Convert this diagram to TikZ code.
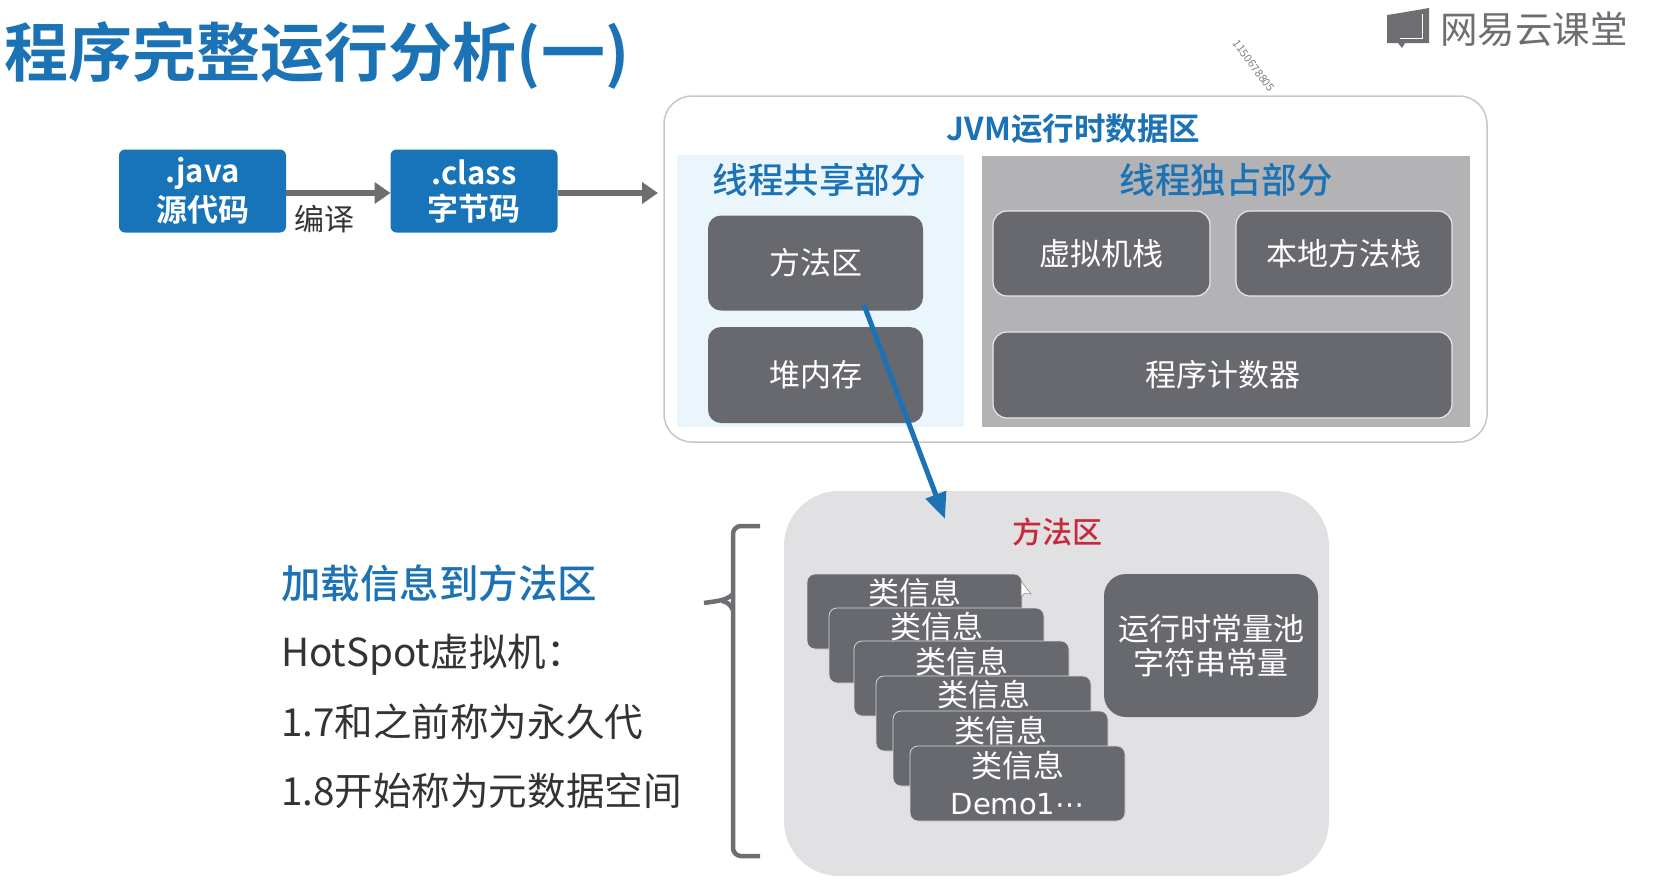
\documentclass[tikz,border=0pt]{standalone}
\usepackage{fontspec}
\usetikzlibrary{arrows.meta}
\setmainfont{Noto Sans CJK SC}[BoldFont={Noto Sans CJK SC Bold}]
\newfontfamily\medfont{Noto Sans CJK SC Medium}
\newfontfamily\dvfont{DejaVu Sans}
\definecolor{tblue}{HTML}{1B72B4}
\definecolor{boxblue}{HTML}{1874B8}
\definecolor{dgray}{HTML}{68696E}
\definecolor{agray}{HTML}{6E6E72}
\definecolor{pblue}{HTML}{EAF5FC}
\definecolor{pgray}{HTML}{B3B3B5}
\definecolor{bgray}{HTML}{E1E1E3}
\definecolor{redt}{HTML}{C8283C}
\newcommand{\fs}[1]{\fontsize{#1}{#1}\selectfont}
\tikzset{
  x=1pt,y=-1pt,
  every node/.style={inner sep=0pt,outer sep=0pt,align=center},
  bluebox/.style={fill=boxblue,rounded corners=6pt,text=white,font=\fs{31}\bfseries,minimum width=167pt,minimum height=83pt},
  darkbox/.style={fill=dgray,rounded corners=13pt,text=white,font=\fs{31},minimum width=215pt},
  framed/.style={darkbox,draw=white!85!dgray,line width=1.2pt,rounded corners=14pt},
  card/.style={fill=dgray,draw=white!75!dgray,line width=.8pt,rounded corners=8pt,minimum width=215pt,minimum height=75pt},
  cardtext/.style={text=white,font=\fs{31}},
  graylink/.style={draw=agray,line width=5.5pt,-{Triangle[length=16pt,width=21pt]}},
  bluelink/.style={draw=tblue,line width=5pt,-{Triangle[length=26pt,width=21pt]}},
  panelhead/.style={text=tblue,font=\medfont\fs{35.5}},
}
\begin{document}
\begin{tikzpicture}
\useasboundingbox (0,0) rectangle (1658,887);
% title and logo
\node[anchor=west,text=tblue,font=\fs{64}\bfseries] (title) at (5,55) {程序完整运行分析(一)};
\fill[agray] (1400,13) -- (1429,8) -- (1429,43) -- (1405,43) -- (1402,48) -- (1398,43) -- (1387,43) -- (1387,15) -- cycle;
\draw[white,line width=1pt] (1422,14) -- (1422,38) -- (1400,38);
\node[text=agray,font=\fs{37.5}] (logo) at (1534,29) {网易云课堂};
\node[text=black!50,font=\fs{11},rotate=-53] (mark) at (1254,66) {1150678805};
% source files
\node[bluebox] (java) at (202.5,191) {.java\\[5pt]源代码};
\node[bluebox] (class) at (474,191) {.class\\[5pt]字节码};
\node[text=black!80,font=\fs{30}] (compile) at (324,219) {编译};
% JVM runtime area
\node[draw=black!22,line width=1.5pt,fill=white,rounded corners=28pt,minimum width=823pt,minimum height=346pt] (jvm) at (1075.5,269) {};
\node[text=tblue,font=\fs{31.5}\bfseries] (jvmtitle) at (1073.5,129) {JVM运行时数据区};
\node[fill=pblue,minimum width=287pt,minimum height=272pt] (shared) at (820.5,291) {};
\node[fill=pgray,minimum width=488pt,minimum height=271pt] (own) at (1226,291.5) {};
\node[panelhead] (sharedtitle) at (819,180) {线程共享部分};
\node[panelhead] (owntitle) at (1226,180) {线程独占部分};
\node[darkbox,minimum height=95pt] (method) at (815.5,263) {方法区};
\node[darkbox,minimum height=96pt] (heap) at (815.5,375) {堆内存};
\node[framed,minimum width=217pt,minimum height=85pt] (vmstack) at (1101.5,253.5) {虚拟机栈};
\node[framed,minimum width=216pt,minimum height=85pt] (nstack) at (1344,253.5) {本地方法栈};
\node[framed,minimum width=459pt,minimum height=86pt] (pc) at (1222.5,375) {程序计数器};
\coordinate (jvmin) at (658,193);
\draw[graylink] (java.east |- 0,193) -- (class.west |- 0,193);
\draw[graylink] (class.east |- 0,193) -- (jvmin);
% method area detail
\node[fill=bgray,rounded corners=55pt,minimum width=545pt,minimum height=385pt] (area) at (1056.5,683.5) {};
\node[text=redt,font=\medfont\fs{30}] (areatitle) at (1057,532) {方法区};
\node[card,anchor=north west] (c1) at (807,574) {};
\node[cardtext] (t1) at (c1.north |- 0,593) {类信息};
\node[card,anchor=north west] (c2) at (829,608) {};
\node[cardtext] (t2) at (c2.north |- 0,627) {类信息};
\node[card,anchor=north west] (c3) at (854,641) {};
\node[cardtext] (t3) at (c3.north |- 0,662) {类信息};
\node[card,anchor=north west] (c4) at (876,676) {};
\node[cardtext] (t4) at (c4.north |- 0,695) {类信息};
\node[card,anchor=north west] (c5) at (893,711) {};
\node[cardtext] (t5) at (c5.north |- 0,731) {类信息};
\node[card,anchor=north west] (c6) at (910,746) {};
\node[cardtext] (t6) at (c6.north |- 0,766) {类信息};
\node[cardtext,font=\dvfont\fs{29}] (t7) at (c6.north |- 0,804) {Demo1⋯};
\fill[white,draw=black!50,line width=.5pt] (1021,581) -- (1021,597) -- (1025,593) -- (1031,594) -- cycle;
\node[darkbox,minimum width=214pt,minimum height=143pt,rounded corners=22pt] (pool) at (1211,645.5) {运行时常量池\\[3pt]字符串常量};
% blue connector
\coordinate (from) at (864,305);
\coordinate (to) at (945,519);
\draw[bluelink] (from) -- (to);
% brace
\draw[agray,line width=4.5pt,rounded corners=8pt] (760,526) -- (733,526) -- (733,856) -- (760,856);
\draw[agray,line width=4.5pt] (704,603) .. controls (716,601) and (726,601) .. (733,594);
\draw[agray,line width=4.5pt] (722,601) .. controls (727,602) and (730,604) .. (733,610);
% notes
\node[anchor=west,text=tblue,font=\medfont\fs{39.5}] (n1) at (281,583) {加载信息到方法区};
\node[anchor=west,text=black!80,font=\fs{38.6}] (n2) at (281,655) {HotSpot虚拟机：};
\node[anchor=west,text=black!80,font=\fs{38.6}] (n3) at (281,722) {1.7和之前称为永久代};
\node[anchor=west,text=black!80,font=\fs{38.6}] (n4) at (281,791) {1.8开始称为元数据空间};
\end{tikzpicture}
\end{document}
